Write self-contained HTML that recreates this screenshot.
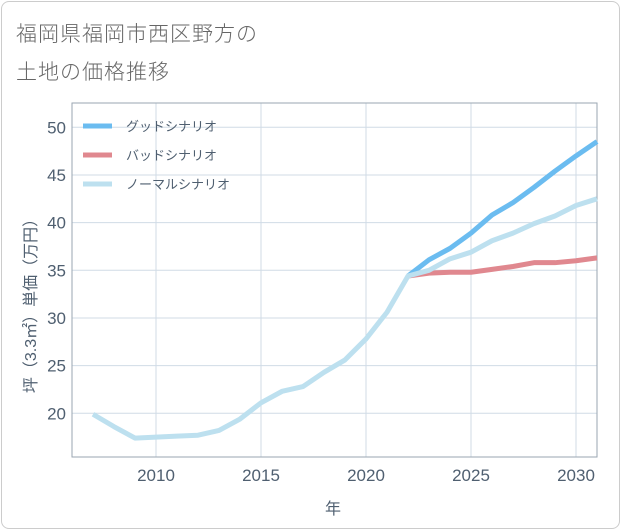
<!DOCTYPE html>
<html><head><meta charset="utf-8"><style>
body{margin:0;background:#fff;font-family:"Liberation Sans","Noto Sans CJK JP",sans-serif}
#card{position:absolute;left:1px;top:1px;width:617px;height:526px;border:1px solid #ccc;border-radius:8px;background:#fff}
.title{position:absolute;left:16px;font-size:21px;color:#666;letter-spacing:1px;font-weight:300}
</style></head><body>
<div id="card"></div>
<div class="title" style="top:18px">福岡県福岡市西区野方の</div>
<div class="title" style="top:56px">土地の価格推移</div>
<svg id="chart" width="621" height="530" style="position:absolute;left:0;top:0"></svg>
<script>
const years=[2007,2008,2009,2010,2011,2012,2013,2014,2015,2016,2017,2018,2019,2020,2021,2022,2023,2024,2025,2026,2027,2028,2029,2030,2031];
const normal=[19.9,18.6,17.4,17.5,17.6,17.7,18.2,19.4,21.1,22.3,22.8,24.3,25.6,27.8,30.6,34.4,35.0,36.2,36.9,38.1,38.9,39.9,40.7,41.8,42.5];
const futYears=[2022,2023,2024,2025,2026,2027,2028,2029,2030,2031];
const good=[34.4,36.1,37.3,38.9,40.8,42.1,43.7,45.4,47.0,48.5];
const bad=[34.4,34.7,34.8,34.8,35.1,35.4,35.8,35.8,36.0,36.3];
const xTicks=[2010,2015,2020,2025,2030];
const yTicks=[20,25,30,35,40,45,50];
const L=72,R=597,T=103,B=457;
const x=v=>156+(v-2010)*21;
const y=v=>413.3-(v-20)*9.533;
const svg=document.getElementById('chart');
const NS='http://www.w3.org/2000/svg';
function mk(t,a){const e=document.createElementNS(NS,t);for(const k in a)e.setAttribute(k,a[k]);svg.appendChild(e);return e;}
for(const t of xTicks){const l=mk('line',{x1:x(t),x2:x(t),y1:T,y2:B,stroke:'#d0dbe6','stroke-width':1});


const tx=mk('text',{x:x(t),y:481,'text-anchor':'middle','font-size':17,fill:'#4f5f70'});tx.textContent=t;

}
for(const t of yTicks){const l=mk('line',{x1:L,x2:R,y1:y(t),y2:y(t),stroke:'#d0dbe6','stroke-width':1});


const tx=mk('text',{x:66,y:y(t)+6,'text-anchor':'end','font-size':17,fill:'#4f5f70'});tx.textContent=t;

}
const fr=mk('rect',{x:L,y:T,width:R-L,height:B-T,fill:'none',stroke:'#9aa6b2','stroke-width':1});


function line(xs,vs,c,n){const p=mk('polyline',{points:xs.map((v,i)=>x(v)+','+y(vs[i])).join(' '),fill:'none',stroke:c,'stroke-width':5,'stroke-linejoin':'round'});

}
line(futYears,bad,'#e0888f','bad-scenario-line');
line(futYears,good,'#6bbcf0','good-scenario-line');
line(years,normal,'#bde0ef','normal-scenario-line');
const leg=[['グッドシナリオ','#6bbcf0'],['バッドシナリオ','#e0888f'],['ノーマルシナリオ','#bde0ef']];
leg.forEach((d,i)=>{const yy=126+i*29;
const s=mk('line',{x1:83,x2:112,y1:yy,y2:yy,stroke:d[1],'stroke-width':5});


const t=mk('text',{x:126,y:yy+5,'font-size':13,fill:'#4f5f70'});t.textContent=d[0];

});
const yt=mk('text',{x:0,y:0,'font-size':16,fill:'#4f5f70','text-anchor':'middle',transform:'translate(36,302) rotate(-90)'});yt.textContent='坪（3.3㎡）単価（万円）';


const xt=mk('text',{x:333,y:514,'font-size':16,fill:'#4f5f70','text-anchor':'middle'});xt.textContent='年';


</script>
</body></html>
